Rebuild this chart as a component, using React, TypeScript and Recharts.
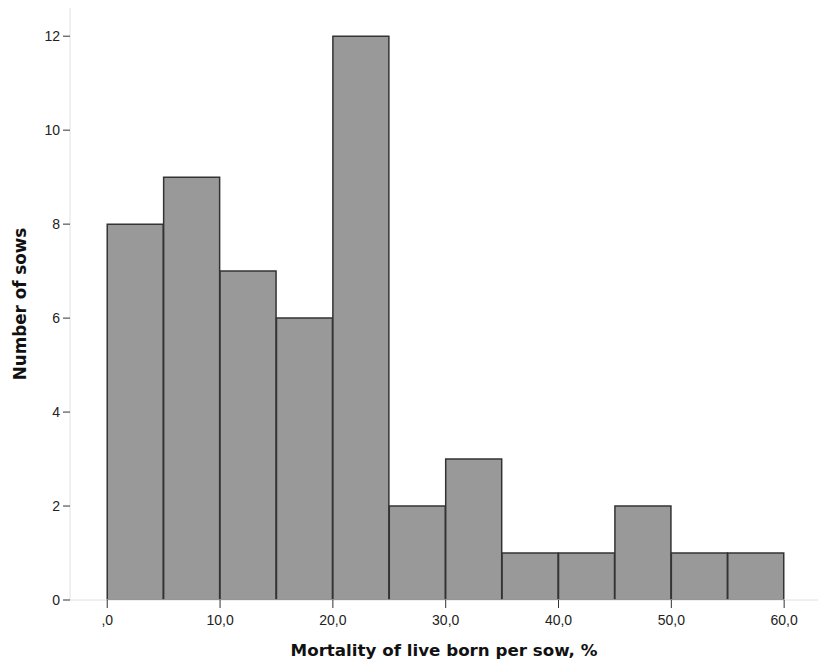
import { BarChart, Bar, XAxis, YAxis, Label } from "recharts";

// Гистограмма: смертность живорождённых на свиноматку
const BIN_STARTS = [0, 5, 10, 15, 20, 25, 30, 35, 40, 45, 50, 55];
const COUNTS = [8, 9, 7, 6, 12, 2, 3, 1, 1, 2, 1, 1];
const X_TICKS = [0, 10, 20, 30, 40, 50, 60];
const Y_TICKS = [0, 2, 4, 6, 8, 10, 12];

const data = BIN_STARTS.map((s, i) => ({ mid: s + 2.5, count: COUNTS[i] }));

const TICK_FONT = "'Liberation Sans', Arial, sans-serif";
const LABEL_FONT = "'DejaVu Sans', Verdana, sans-serif";

function formatX(v: number): string {
  if (v === 0) return ",0";
  return v.toFixed(1).replace(".", ",");
}

// Кастомные тики
const XTick = ({ x, y, payload }: any) => (
  <text x={x} y={y + 13} textAnchor="middle" fontFamily={TICK_FONT} fontSize={14} fill="#222">
    {formatX(payload.value)}
  </text>
);

const YTick = ({ x, y, payload }: any) => (
  <text x={x} y={y + 5} textAnchor="end" fontFamily={TICK_FONT} fontSize={14} fill="#222">
    {payload.value}
  </text>
);

const YTitle = ({ viewBox }: any) => {
  const cx = 20;
  const cy = viewBox.y + viewBox.height / 2;
  return (
    <text
      x={cx}
      y={cy}
      transform={`rotate(-90 ${cx} ${cy})`}
      textAnchor="middle"
      dominantBaseline="central"
      fontFamily={LABEL_FONT}
      fontWeight="bold"
      fontSize={16.8}
      fill="#111"
    >
      Number of sows
    </text>
  );
};

const XTitle = ({ viewBox }: any) => {
  const cx = viewBox.x + viewBox.width / 2;
  return (
    <text
      x={cx}
      y={650}
      textAnchor="middle"
      dominantBaseline="central"
      fontFamily={LABEL_FONT}
      fontWeight="bold"
      fontSize={16.7}
      fill="#111"
    >
      Mortality of live born per sow, %
    </text>
  );
};

export default function App() {
  return (
    <div style={{ position: "absolute", left: 0, top: 0, width: 818, height: 670, background: "#fff" }}>
      <BarChart
        width={818}
        height={670}
        data={data}
        margin={{ top: 8, right: 0, left: 0, bottom: 0 }}
        barCategoryGap={0}
        barGap={0}
      >
        <XAxis
          type="number"
          dataKey="mid"
          domain={[-3.3, 63]}
          allowDataOverflow
          ticks={X_TICKS}
          height={70}
          axisLine={{ stroke: "#e0e0e0" }}
          tickLine={{ stroke: "#333" }}
          tickSize={8}
          tickMargin={4}
          tick={<XTick />}
        >
          <Label content={<XTitle />} />
        </XAxis>
        <YAxis
          domain={[0, 12.6]}
          allowDataOverflow
          ticks={Y_TICKS}
          width={70}
          axisLine={{ stroke: "#e0e0e0" }}
          tickLine={{ stroke: "#333" }}
          tickSize={7}
          tickMargin={3}
          tick={<YTick />}
        >
          <Label content={<YTitle />} />
        </YAxis>
        <Bar
          dataKey="count"
          fill="#999999"
          stroke="#333"
          strokeWidth={1.5}
          isAnimationActive={false}
        />
      </BarChart>
    </div>
  );
}
